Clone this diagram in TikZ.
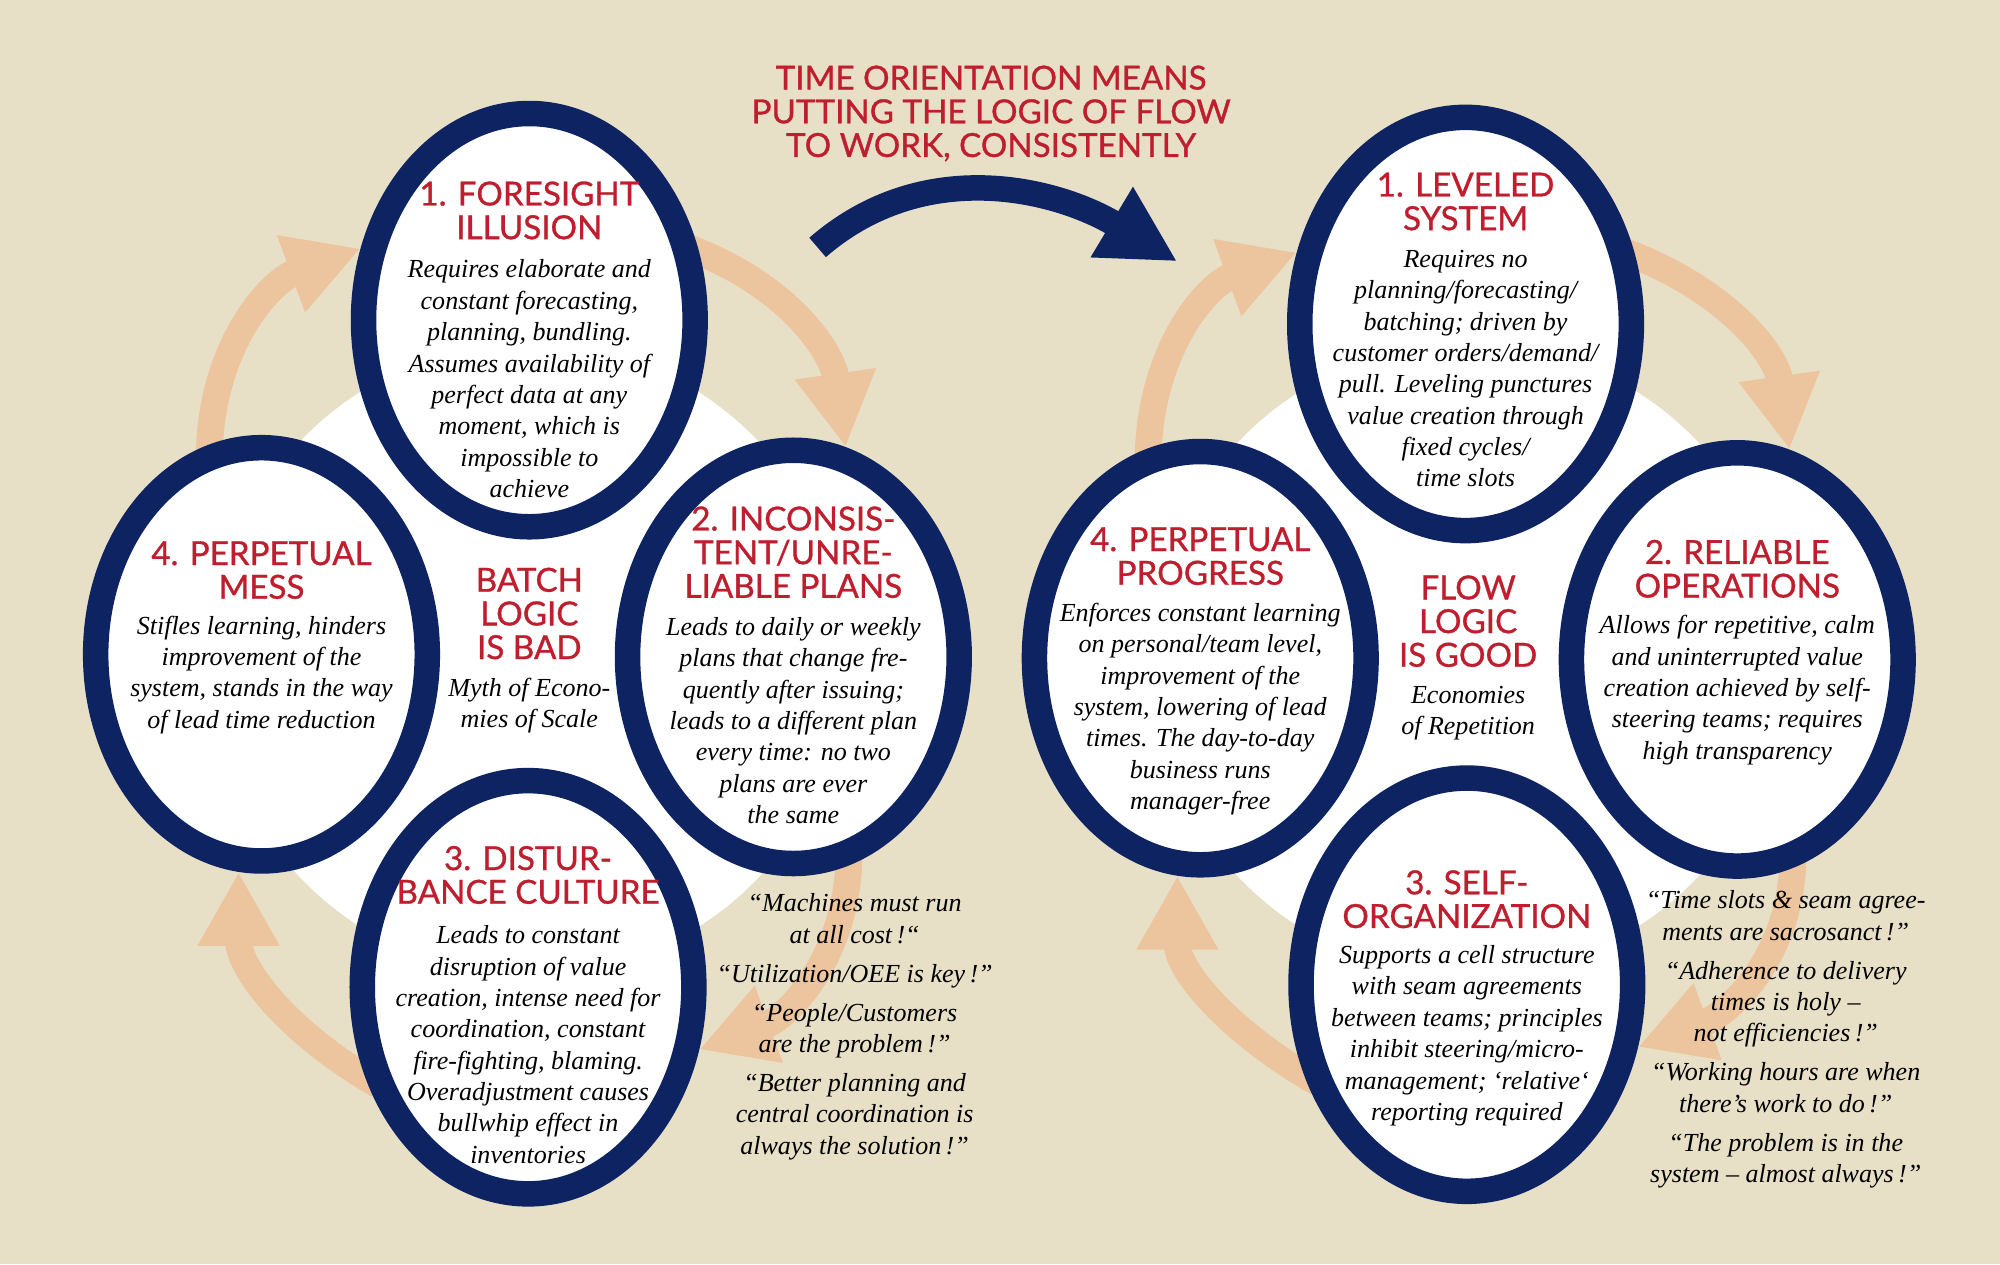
\documentclass[tikz,border=0pt]{standalone}
\usepackage{fontspec}
\setmainfont{Liberation Serif}
\newfontfamily\capsfont{Lato}[FakeBold=0.9]
\usetikzlibrary{arrows.meta,shapes.geometric,positioning}
\definecolor{beige}{HTML}{E8DFC7}
\definecolor{navy}{HTML}{0E2462}
\definecolor{peach}{HTML}{ECC49D}
\definecolor{headred}{HTML}{BE1E2D}
\pgfdeclarelayer{back}
\pgfsetlayers{back,main}
\tikzset{
  ringnode/.style={ellipse,draw=navy,line width=10pt,fill=white,minimum width=130pt,minimum height=162pt,inner sep=0pt},
  capstext/.style={font=\capsfont\fontsize{13}{13.2}\selectfont,text=headred,align=center,inner sep=0pt},
  bodytext/.style={font=\fontsize{10.2}{12.3}\selectfont\itshape,align=center,inner sep=0pt},
  cyclearrow/.style={draw=peach,line width=10.5pt,-{Triangle[width=30pt,length=29pt]},shorten <=-6pt},
  bigarrow/.style={draw=navy,line width=10pt,-{Triangle[width=30pt,length=30pt]}},
}
\begin{document}
\begin{tikzpicture}[x=0.5pt,y=0.5pt]
\useasboundingbox (0,0) rectangle (1568,991);
% the eight rings, batch on the left, flow on the right
\foreach \n/\x/\y in {e1/415/740, e2/622/476, e3/414/217, e4/205/478,
                      r1/1149/737, r2/1362/474, r3/1150/219, r4/941/475}{
    \node[ringnode] (\n) at (\x,\y) {};
}
\coordinate (batch) at (415,474);
\coordinate (flow) at (1151,474);

% batch logic
\node[capstext] (h1) at ([yshift=43pt]e1) {1. FORESIGHT\\ILLUSION};
\node[bodytext] (b1) at ([yshift=-23pt]e1) {Requires elaborate and\\constant forecasting,\\planning, bundling.\\Assumes availability of\\perfect data at any\\moment, which is\\impossible to\\achieve};
\node[capstext] (h2) at ([yshift=41pt]e2) {2. INCONSIS-\\TENT/UNRE-\\LIABLE PLANS};
\node[bodytext] (b2) at ([yshift=-25pt]e2) {Leads to daily or weekly\\plans that change fre-\\quently after issuing;\\leads to a different plan\\every time: no two\\plans are ever\\the same};
\node[capstext] (h3) at ([yshift=44pt]e3) {3. DISTUR-\\BANCE CULTURE};
\node[bodytext] (b3) at ([yshift=-22.5pt]e3) {Leads to constant\\disruption of value\\creation, intense need for\\coordination, constant\\fire-fighting, blaming.\\Overadjustment causes\\bullwhip effect in\\inventories};
\node[capstext] (h4) at ([yshift=33pt]e4) {4. PERPETUAL\\MESS};
\node[bodytext] (b4) at ([yshift=-8pt]e4) {Stifles learning, hinders\\improvement of the\\system, stands in the way\\of lead time reduction};
\node[capstext] (bl) at ([yshift=18pt]batch) {BATCH\\LOGIC\\IS BAD};
\node[bodytext] (bm) at ([yshift=-18pt]batch) {Myth of Econo-\\mies of Scale};
\node[bodytext] (bq) at ([xshift=24pt,yshift=-145pt]e2) {“Machines must run\\at all cost\,!“\\[3pt]“Utilization/OEE is key\,!”\\[3pt]“People/Customers\\are the problem\,!”\\[3pt]“Better planning and\\central coordination is\\always the solution\,!”};

% flow logic
\node[capstext] (g1) at ([yshift=48pt]r1) {1. LEVELED\\SYSTEM};
\node[bodytext] (c1) at ([yshift=-17.5pt]r1) {Requires no\\planning/forecasting/\\batching; driven by\\customer orders/demand/\\pull. Leveling punctures\\value creation through\\fixed cycles/\\time slots};
\node[capstext] (g2) at ([yshift=35.5pt]r2) {2. RELIABLE\\OPERATIONS};
\node[bodytext] (c2) at ([yshift=-12pt]r2) {Allows for repetitive, calm\\and uninterrupted value\\creation achieved by self-\\steering teams; requires\\high transparency};
\node[capstext] (g3) at ([yshift=33.5pt]r3) {3. SELF-\\ORGANIZATION};
\node[bodytext] (c3) at ([yshift=-20pt]r3) {Supports a cell structure\\with seam agreements\\between teams; principles\\inhibit steering/micro-\\management; ‘relative‘\\reporting required};
\node[capstext] (g4) at ([yshift=40pt]r4) {4. PERPETUAL\\PROGRESS};
\node[bodytext] (c4) at ([yshift=-20pt]r4) {Enforces constant learning\\on personal/team level,\\improvement of the\\system, lowering of lead\\times. The day-to-day\\business runs\\manager-free};
\node[capstext] (fl) at ([yshift=15pt]flow) {FLOW\\LOGIC\\IS GOOD};
\node[bodytext] (fm) at ([yshift=-21pt]flow) {Economies\\of Repetition};
\node[bodytext] (fq) at ([xshift=19pt,yshift=-149pt]r2) {“Time slots \& seam agree-\\ments are sacrosanct\,!”\\[3pt]“Adherence to delivery\\times is holy –\\not efficiencies\,!”\\[3pt]“Working hours are when\\there’s work to do\,!”\\[3pt]“The problem is in the\\system – almost always\,!”};

% from batch to flow
\node[capstext] (slogan) at (777,902) {TIME ORIENTATION MEANS\\PUTTING THE LOGIC OF FLOW\\TO WORK, CONSISTENTLY};
\coordinate (leave) at (641,797);
\coordinate (arrive) at (923,786);
\draw[bigarrow] (leave) to[out=41,in=149] (arrive);

\begin{pgfonlayer}{back}
\fill[beige] (0,0) rectangle (1568,991);
\fill[white] (batch) circle (248);
\fill[white] (flow) circle (248);
\foreach \p in {e,r}{
    \draw[cyclearrow] (\p4.104) to[out=90,in=200] (\p1.157);
    \draw[cyclearrow] (\p1.22) to[out=340,in=98] (\p2.76);
    \draw[cyclearrow] (\p2.285) to[out=270,in=20] (\p3.340);
    \draw[cyclearrow] (\p3.209) to[out=150,in=270] (\p4.264);
}
\end{pgfonlayer}
\end{tikzpicture}
\end{document}
